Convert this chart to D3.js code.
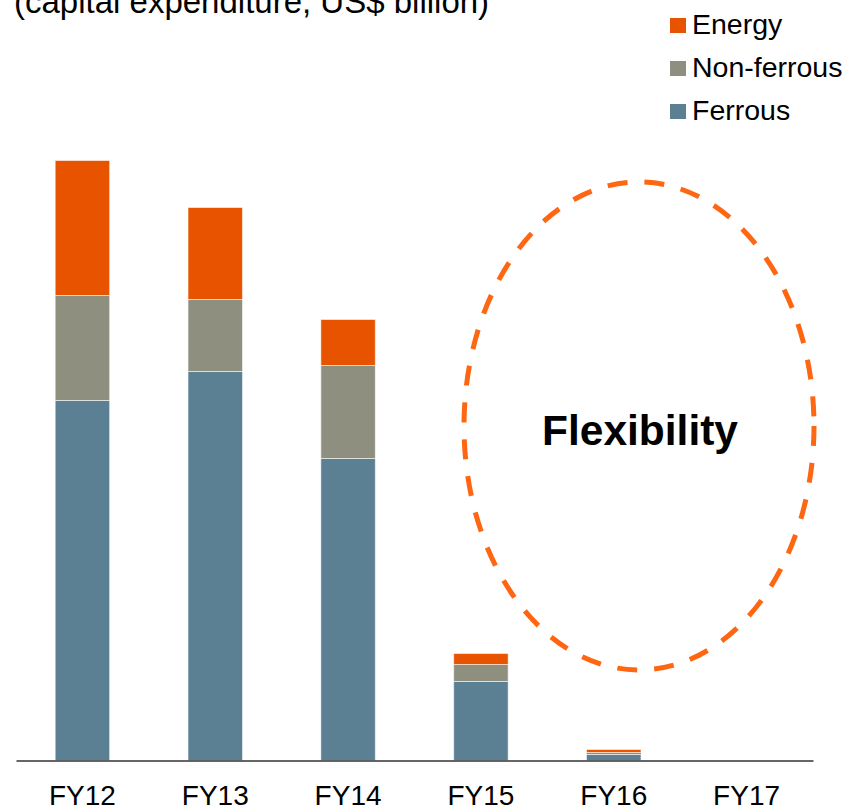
<!DOCTYPE html>
<html>
<head>
<meta charset="utf-8">
<script src="https://cdn.jsdelivr.net/npm/d3@7"></script>
<style>
  body { margin: 0; background: #fff; }
  svg { display: block; font-family: "Liberation Sans", Arial, sans-serif; }
</style>
</head>
<body>
<div id="chart"></div>
<script>
// capital expenditure, US$ billion
const years = ["FY12", "FY13", "FY14", "FY15", "FY16", "FY17"]
const ferrous    = [3.60, 3.89, 3.02, 0.79, 0.06, 0]
const nonFerrous = [1.05, 0.72, 0.93, 0.17, 0.02, 0]
const energy     = [1.35, 0.92, 0.46, 0.11, 0.03, 0]
const seriesNames = ["Ferrous", "Non-ferrous", "Energy"]
const colors = ["#5b7f93", "#8f8f7f", "#e85300"]

const width = 849, height = 808

const rows = years.map((y, i) => ({
  year: y,
  "Ferrous": ferrous[i],
  "Non-ferrous": nonFerrous[i],
  "Energy": energy[i]
}))
const stacked = d3.stack().keys(seriesNames)(rows)

const svg = d3.select("#chart")
  .append("svg")
    .attr("width", width)
    .attr("height", height)

var x = d3.scaleBand()
  .domain(years)
  .range([16, 813])
  .paddingInner(0.59)
  .paddingOuter(0.295)

var y = d3.scaleLinear()
  .domain([0, 6])
  .range([760.5, 160.5])

// title (clipped at the top like the slide)
svg.append("text")
  .attr("x", 14)
  .attr("y", 13)
  .style("font-size", "33px")
  .attr("fill", "#000")
  .text("(capital expenditure, US$ billion)")

// bars
svg.append("g")
  .selectAll("g")
  .data(stacked)
  .enter()
  .append("g")
    .attr("fill", (d, i) => colors[i])
  .selectAll("rect")
  .data(d => d)
  .enter()
  .append("rect")
    .attr("x", d => x(d.data.year))
    .attr("y", d => y(d[1]))
    .attr("width", x.bandwidth())
    .attr("height", d => y(d[0]) - y(d[1]))
    .attr("stroke", "#fff")
    .attr("stroke-opacity", 0.55)
    .attr("stroke-width", 1)

// category axis
const xAxis = svg.append("g")
  .attr("transform", "translate(0,760.5)")
  .call(d3.axisBottom(x).tickSize(0).tickSizeOuter(0))
xAxis.select(".domain")
  .attr("stroke", "#333")
  .attr("stroke-width", 1.5)
xAxis.selectAll("text")
  .attr("y", 44)
  .attr("dy", 0)
  .attr("fill", "#000")
  .style("font-size", "28px")
  .style("font-family", "'Liberation Sans', Arial, sans-serif")

// legend, top right, Energy first
const legendOrder = [2, 1, 0]
const legend = svg.append("g")
  .selectAll("g")
  .data(legendOrder)
  .enter()
  .append("g")
    .attr("transform", (d, i) => "translate(670," + (18 + i * 43) + ")")
legend.append("rect")
  .attr("width", 16)
  .attr("height", 15)
  .attr("fill", d => colors[d])
legend.append("text")
  .attr("x", 22)
  .attr("y", 16)
  .style("font-size", "28.5px")
  .attr("fill", "#000")
  .text(d => seriesNames[d])

// "Flexibility" dashed ellipse annotation
svg.append("ellipse")
  .attr("cx", 639)
  .attr("cy", 426)
  .attr("rx", 175)
  .attr("ry", 244)
  .attr("fill", "none")
  .attr("stroke", "#ff6612")
  .attr("stroke-width", 5)
  .attr("stroke-dasharray", "20,17")

svg.append("text")
  .attr("x", 640)
  .attr("y", 445)
  .attr("text-anchor", "middle")
  .style("font-size", "42.5px")
  .style("font-weight", "bold")
  .attr("fill", "#000")
  .text("Flexibility")
</script>
</body>
</html>
